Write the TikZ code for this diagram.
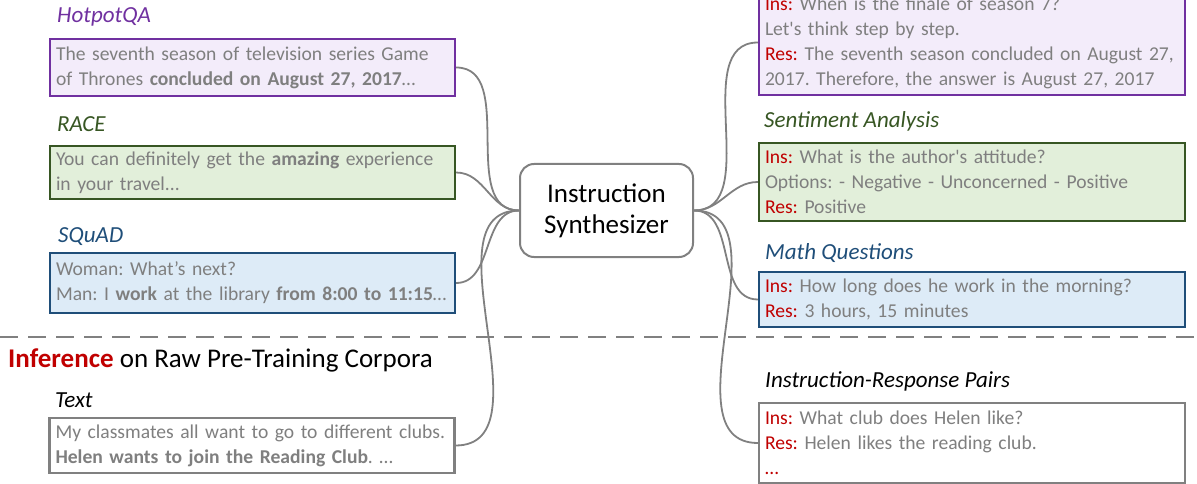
\documentclass[tikz,border=0pt]{standalone}
\usepackage{fontspec}
\setmainfont{Carlito}
\frenchspacing
\definecolor{txtgray}{HTML}{7F7F7F}
\definecolor{conngray}{HTML}{808080}
\definecolor{insred}{HTML}{C00000}
\definecolor{purp}{HTML}{7030A0}
\definecolor{purpfill}{HTML}{F3ECFA}
\definecolor{grn}{HTML}{375623}
\definecolor{grnfill}{HTML}{E2EFDA}
\definecolor{blu}{HTML}{1F4E79}
\definecolor{blufill}{HTML}{DDEBF7}
\newcommand{\ins}{\textcolor{insred}{Ins:}}
\newcommand{\res}{\textcolor{insred}{Res:}}
\tikzset{
  box/.style={draw, line width=2.2pt, rectangle, inner xsep=6pt, inner ysep=0pt, align=left,
    font=\fontsize{19.6}{25}\selectfont, text=txtgray},
  lbox/.style={box, minimum width=405pt, text width=393pt},
  rbox/.style={box, minimum width=426pt, text width=414pt},
  lab/.style={anchor=base west, inner sep=0pt, font=\fontsize{23}{27}\selectfont\itshape},
  conn/.style={draw=conngray, line width=1.8pt},
}
\begin{document}
\begin{tikzpicture}[x=1pt,y=-1pt]
\useasboundingbox (0,0) rectangle (1197,484);
% left labels
\node[lab, text=purp] (lhq) at (57,23) {HotpotQA};
\node[lab, text=grn] (lrace) at (57,132) {RACE};
\node[lab, text=blu] (lsq) at (58,242) {SQuAD};
\node[lab, text=black] (ltext) at (55,407) {Text};
% left boxes
\node[lbox, draw=purp, fill=purpfill, minimum height=57pt] (hq) at (252.5,67.5)
 {\mbox{The seventh season of television series Game}\\\mbox{of Thrones \textbf{concluded on August 27, 2017}…}};
\node[lbox, draw=grn, fill=grnfill, minimum height=53pt] (race) at (252.5,172.5)
 {\mbox{You can definitely get the \textbf{amazing} experience}\\in your travel...};
\node[lbox, draw=blu, fill=blufill, minimum height=60pt] (sq) at (252.5,283)
 {Woman: What’s next?\\\mbox{Man: I \textbf{work} at the library \textbf{from 8:00 to 11:15}…}};
\node[lbox, draw=conngray, fill=white, minimum height=55pt] (txt) at (252,445.5)
 {\mbox{My classmates all want to go to different clubs.}\\\mbox{\textbf{Helen wants to join the Reading Club}. …}};
% dashed separator
\coordinate (dl) at (0,337);
\coordinate (dr) at (1197,337);
\draw[conngray, line width=2.5pt, dash pattern=on 18pt off 10pt] (dl) -- (dr);
% inference title
\node[anchor=base west, inner sep=0pt, font=\fontsize{27}{31}\selectfont] (inf) at (8,367)
 {\textcolor{insred}{\textbf{Inference}} on Raw Pre-Training Corpora};
% synthesizer
\node[draw=conngray, line width=2pt, rounded corners=14pt, minimum width=173pt, minimum height=93pt,
  align=center, font=\fontsize{27}{31}\selectfont, inner sep=0pt] (syn) at (606.5,210.5)
 {Instruction\\Synthesizer};
% right labels
\node[lab, text=grn] (lsa) at (764,128) {Sentiment\ Analysis};
\node[lab, text=blu] (lmq) at (765,259) {Math\ Questions};
\node[lab, text=black] (lirp) at (765,387) {Instruction-Response\ Pairs};
% right boxes
\node[rbox, draw=purp, fill=purpfill, minimum height=105pt] (rhq) at (972,42.5)
 {\ins{} When is the finale of season 7?\\Let\textquotesingle s think step by step.\\\mbox{\res{} The seventh season concluded on August 27,}\\\mbox{2017. Therefore, the answer is August 27, 2017}};
\node[rbox, draw=grn, fill=grnfill, minimum height=78pt] (rsa) at (972,182)
 {\ins{} What is the author\textquotesingle s attitude?\\Options: - Negative - Unconcerned - Positive\\\res{} Positive};
\node[rbox, draw=blu, fill=blufill, minimum height=55pt] (rmq) at (972,299.5)
 {\ins{} How long does he work in the morning?\\\res{} 3 hours, 15 minutes};
\node[rbox, draw=conngray, fill=white, minimum height=80pt] (rirp) at (972,443)
 {\ins{} What club does Helen like?\\\res{} Helen likes the reading club.\\\textcolor{insred}{…}};
% connectors
\foreach \n in {hq,race,sq,txt}
  \draw[conn] (\n.east) to[out=0,in=180] (syn.west);
\foreach \n in {rhq,rsa,rmq,rirp}
  \draw[conn] (syn.east) to[out=0,in=180] (\n.west);
\end{tikzpicture}
\end{document}
